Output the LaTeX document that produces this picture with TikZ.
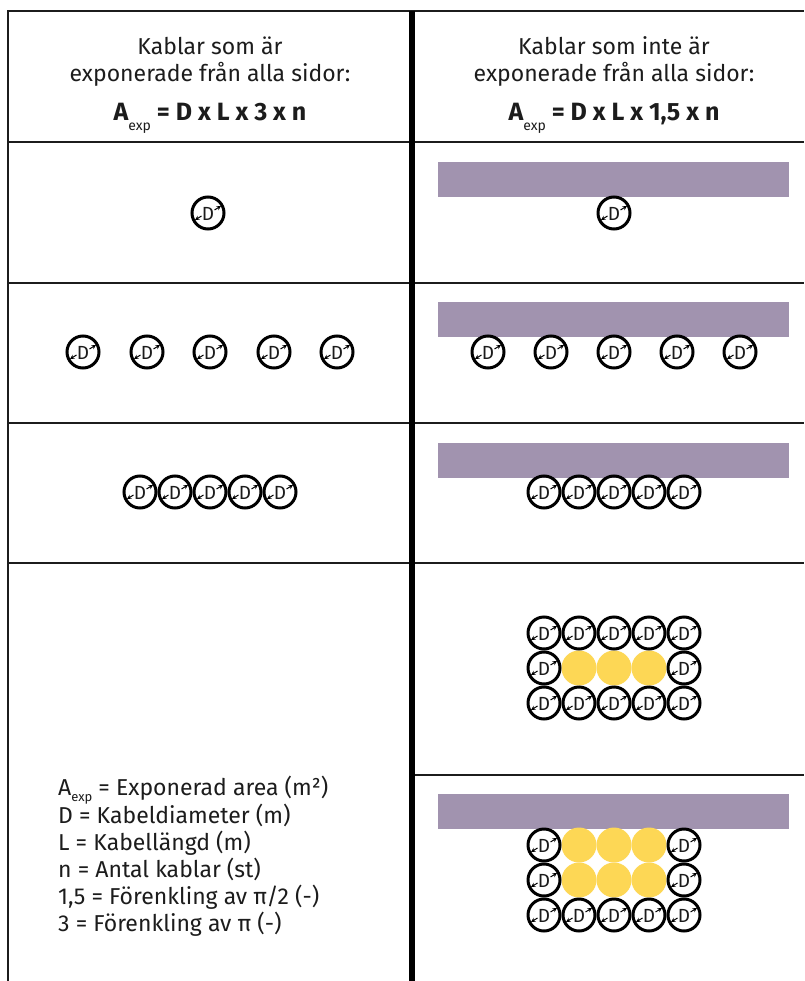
\documentclass[tikz,border=0pt]{standalone}
\usepackage{fontspec}
\setmainfont{Fira Sans}
\usetikzlibrary{arrows.meta}
\definecolor{shelfcol}{RGB}{161,147,175}
\definecolor{yelcol}{RGB}{253,215,85}
\definecolor{ink}{RGB}{28,28,28}
\begin{document}
\begin{tikzpicture}[x=1pt,y=-1pt,
  gridline/.style={line width=1.5pt, draw=ink},
  divider/.style={line width=6pt, draw=black},
  shelf/.style={fill=shelfcol, draw=none},
  filler/.style={fill=yelcol, draw=none},
  headtxt/.style={font=\fontsize{23}{23}\selectfont, anchor=base, inner sep=0, text=ink},
  formula/.style={font=\fontsize{25}{25}\selectfont\bfseries, anchor=base, inner sep=0, text=ink},
  legendtxt/.style={font=\fontsize{23}{23}\selectfont, anchor=base west, inner sep=0, text=ink},
  tinyarrow/.style={line width=1pt, -{Stealth[length=4.5pt,width=4.5pt]}},
  cable/.pic={
    \draw[line width=3pt] (0,0) circle (16);
    \node[inner sep=0, font=\fontsize{19}{19}\selectfont, text=ink] (-d) at (0,0.5) {D};
    \draw[tinyarrow] (-6.5,3) -- (-13,7);
    \draw[tinyarrow] (6.5,-3) -- (13,-7);
  }
]
\useasboundingbox (0,0) rectangle (804,981);
\fill[white] (0,0) rectangle (804,981);

% grid
\draw[gridline] (8,981) -- (8,11) -- (804,11);
\foreach \yy in {142,283,423,563} \draw[gridline] (8,\yy) -- (804,\yy);
\draw[gridline] (412,775) -- (804,775);
\draw[divider] (412,11) -- (412,981);

% headers
\node[headtxt] (hl1) at (210,55) {Kablar som är};
\node[headtxt] (hl2) at (210,82) {exponerade från alla sidor:};
\node[formula] (hl3) at (210,121) {A\raisebox{-0.4em}{\fontsize{14}{14}\selectfont\mdseries exp} = D x L x 3 x n};
\node[headtxt] (hr1) at (614,55) {Kablar som inte är};
\node[headtxt] (hr2) at (614,82) {exponerade från alla sidor:};
\node[formula] (hr3) at (614,121) {A\raisebox{-0.4em}{\fontsize{14}{14}\selectfont\mdseries exp} = D x L x 1,5 x n};

% shelves
\fill[shelf] (438,162) rectangle (789,197);
\fill[shelf] (438,302) rectangle (789,337);
\fill[shelf] (438,443) rectangle (789,478);
\fill[shelf] (438,794) rectangle (789,829);

% yellow fillers
\foreach \xx [count=\i] in {579,614,649} {
  \fill[filler] (\xx,668) circle (17.5);
  \fill[filler] (\xx,845) circle (17.5);
  \fill[filler] (\xx,880) circle (17.5);
}

% row 1
\pic (ra) at (208,213) {cable};
\pic (rb) at (614,213) {cable};
% row 2
\foreach \xx [count=\i] in {83,147,210,274,337} \pic (rcl\i) at (\xx,352) {cable};
\foreach \xx [count=\i] in {488,551,614,677,740} \pic (rcr\i) at (\xx,352) {cable};
% row 3
\foreach \xx [count=\i] in {140,175,210,245,280} \pic (rdl\i) at (\xx,492) {cable};
\foreach \xx [count=\i] in {544,579,614,649,684} \pic (rdr\i) at (\xx,492) {cable};
% row 4 bundle
\foreach \xx [count=\i] in {544,579,614,649,684} {
  \pic (rea\i) at (\xx,633) {cable};
  \pic (rec\i) at (\xx,703) {cable};
}
\pic (reb1) at (544,668) {cable};
\pic (reb5) at (684,668) {cable};
% row 5 bundle
\foreach \yy [count=\j] in {845,880} {
  \pic (rfs\j) at (544,\yy) {cable};
  \pic (rfe\j) at (684,\yy) {cable};
}
\foreach \xx [count=\i] in {544,579,614,649,684} \pic (rfc\i) at (\xx,915) {cable};

% legend
\node[legendtxt] (lg1) at (58,795) {A\raisebox{-0.3em}{\fontsize{13}{13}\selectfont exp} = Exponerad area (m²)};
\node[legendtxt] (lg2) at (58,823) {D = Kabeldiameter (m)};
\node[legendtxt] (lg3) at (58,850) {L = Kabellängd (m)};
\node[legendtxt] (lg4) at (58,877) {n = Antal kablar (st)};
\node[legendtxt] (lg5) at (58,904) {1,5 = Förenkling av π/2 (-)};
\node[legendtxt] (lg6) at (58,931) {3 = Förenkling av π (-)};
\end{tikzpicture}
\end{document}
